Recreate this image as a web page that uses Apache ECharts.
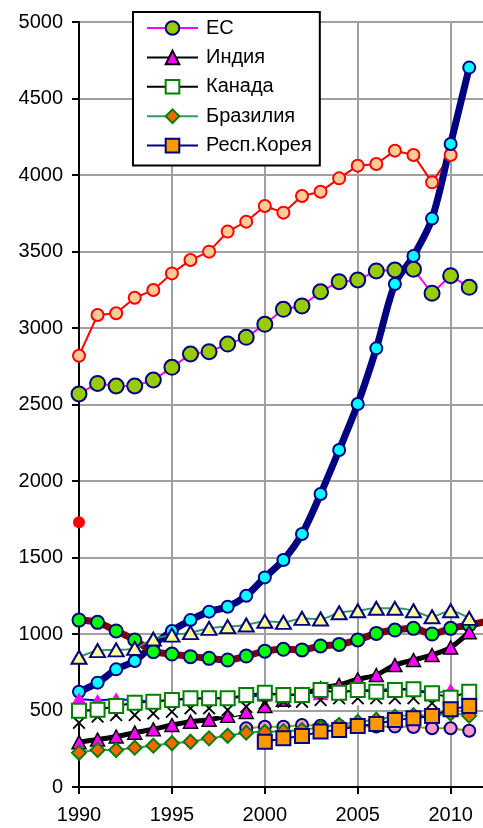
<!DOCTYPE html>
<html>
<head>
<meta charset="utf-8">
<script src="https://cdn.jsdelivr.net/npm/echarts@6/dist/echarts.min.js"></script>
<style>
  html, body { margin: 0; padding: 0; background: #fff; }
  #chart { width: 483px; height: 828px; }
</style>
</head>
<body>
<div id="chart"></div>
<script>
const years = [1990, 1991, 1992, 1993, 1994, 1995, 1996, 1997, 1998, 1999, 2000,
  2001, 2002, 2003, 2004, 2005, 2006, 2007, 2008, 2009, 2010, 2011, 2012]
const yTicks = ["0", "500", "1000", "1500", "2000", "2500", "3000", "3500", "4000", "4500", "5000"]

// series not in the legend
const peach = [2819, 3085, 3096, 3198, 3248, 3357, 3444, 3499, 3630, 3695, 3797,
  3754, 3863, 3891, 3978, 4061, 4072, 4159, 4131, 3952, 4131, null]
const redDot = [1730]
const cyan = [623, 682, 769, 824, 928, 1020, 1091, 1146, 1178, 1250, 1370,
  1484, 1654, 1915, 2203, 2503, 2867, 3288, 3471, 3715, 4203, 4702]
const maroon = [1091, 1076, 1020, 961, 885, 869, 852, 841, 830, 856, 888,
  900, 896, 922, 932, 961, 1004, 1026, 1037, 1000, 1037, 1059, 1085]
const yellowTri = [848, 891, 896, 906, 967, 993, 1009, 1037, 1048, 1059, 1083,
  1076, 1102, 1098, 1139, 1152, 1168, 1168, 1152, 1113, 1152, 1102]
const magentaTri = [575, 565, 575, 565, 560, 570, 575, 580, 580, 590, 600,
  600, 610, 610, 620, 630, 634, 641, 641, 601, 634, 621]
const crosses = [420, 460, 470, 470, 481, 492, 514, 514, 503, 525, 547,
  558, 558, 569, 580, 580, 580, 580, 580, 547, 590, 601]
const pink = [null, null, null, null, null, null, null, null, null, 384, 394,
  394, 405, 400, 400, 397, 395, 395, 392, 384, 384, 368]

// legend series
const eu = [2569, 2638, 2621, 2621, 2660, 2743, 2830, 2845, 2895, 2939, 3024,
  3122, 3144, 3237, 3303, 3314, 3373, 3379, 3384, 3227, 3342, 3266]
const india = [293, 310, 330, 355, 377, 405, 427, 440, 465, 490, 530,
  570, 605, 645, 667, 704, 732, 797, 830, 863, 912, 1012]
const canada = [499, 505, 530, 551, 558, 569, 580, 580, 580, 601, 616,
  601, 601, 634, 616, 634, 623, 634, 639, 612, 584, 623]
const brazil = [224, 242, 242, 257, 270, 286, 296, 318, 335, 355, 360,
  365, 372, 390, 405, 425, 440, 460, 470, 465, 480, 465]
const korea = [null, null, null, null, null, null, null, null, null, null, 296,
  318, 333, 362, 372, 399, 412, 438, 449, 464, 508, 529]

// points past 2011 only carry the line to the edge, no marker
const pts = (arr) => arr.map((v, i) =>
  years[i] > 2011 ? { value: [years[i], v], symbol: "none" } : [years[i], v])
const crossPath = "path://M0,1L1,0L5,4L9,0L10,1L6,5L10,9L9,10L5,6L1,10L0,9L4,5Z"

const chart = echarts.init(document.getElementById("chart"))
const font = "Liberation Sans, Arial, sans-serif"

chart.setOption({
  animation: false,
  backgroundColor: "#fff",
  textStyle: { fontFamily: font },
  grid: { left: 79, right: -4.8, top: 22, bottom: 41, containLabel: false, outerBoundsMode: "none" },
  legend: {
    data: ["ЕС", "Индия", "Канада", "Бразилия", "Респ.Корея"],
    orient: "vertical",
    left: 133,
    top: 12,
    padding: [6, 8, 10, 13],
    itemWidth: 51,
    itemHeight: 17,
    itemGap: 9.4,
    backgroundColor: "#fff",
    borderColor: "#000",
    borderWidth: 2,
    borderRadius: 0,
    textStyle: { fontSize: 20, color: "#000", fontFamily: font, padding: [0, 0, 0, 3] },
  },
  xAxis: {
    type: "value",
    min: 1990,
    max: 2012,
    interval: 5,
    axisLine: { lineStyle: { color: "#000", width: 2 } },
    axisTick: { show: true, length: 7, lineStyle: { color: "#000", width: 2 } },
    axisLabel: {
      fontSize: 20, color: "#000", margin: 18, fontFamily: font,
      formatter: (v) => (v % 5 === 0 ? String(v) : ""),
    },
    splitLine: { show: true, lineStyle: { color: "#a0a0a0", width: 2 } },
  },
  yAxis: {
    type: "value",
    min: 0,
    max: 5000,
    interval: 500,
    axisLine: { show: true, lineStyle: { color: "#000", width: 2 } },
    axisTick: { show: true, length: 7, lineStyle: { color: "#000", width: 2 } },
    axisLabel: {
      fontSize: 20, color: "#000", margin: 16, fontFamily: font,
      formatter: (v) => yTicks[Math.round(v / 500)],
    },
    splitLine: { show: true, lineStyle: { color: "#a0a0a0", width: 2 } },
  },
  series: [
    {
      name: "peach", type: "line", data: pts(peach),
      symbol: "circle", symbolSize: 12,
      lineStyle: { color: "#ff0000", width: 2 },
      itemStyle: { color: "#ffcc99", borderColor: "#ff0000", borderWidth: 2 },
    },
    {
      name: "dot", type: "line", data: pts(redDot),
      symbol: "circle", symbolSize: 12,
      itemStyle: { color: "#ff0000", borderWidth: 0 },
    },
    {
      name: "ЕС", type: "line", data: pts(eu),
      symbol: "circle", symbolSize: 15,
      lineStyle: { color: "#ff00ff", width: 2 },
      itemStyle: { color: "#99cc00", borderColor: "#000080", borderWidth: 2 },
    },
    {
      name: "cyan", type: "line", data: pts(cyan), smooth: 0.3,
      symbol: "circle", symbolSize: 12,
      lineStyle: { color: "#000080", width: 7 },
      itemStyle: { color: "#00ffff", borderColor: "#000080", borderWidth: 2 },
    },
    {
      name: "maroon", type: "line", data: pts(maroon), smooth: 0.3,
      symbol: "circle", symbolSize: 13,
      lineStyle: { color: "#800000", width: 7 },
      itemStyle: { color: "#00ff00", borderColor: "#000080", borderWidth: 2 },
    },
    {
      name: "yellowTri", type: "line", data: pts(yellowTri), smooth: 0.3,
      symbol: "triangle", symbolSize: [15, 13],
      lineStyle: { color: "#339966", width: 2 },
      itemStyle: { color: "#ffff99", borderColor: "#000080", borderWidth: 2 },
    },
    {
      name: "magentaTri", type: "line", data: pts(magentaTri),
      symbol: "triangle", symbolSize: [16, 13],
      lineStyle: { color: "#0000ff", width: 2 },
      itemStyle: { color: "#ff00ff", borderWidth: 0 },
    },
    {
      name: "Индия", type: "line", data: pts(india), smooth: 0.3,
      symbol: "triangle", symbolSize: [14, 13],
      lineStyle: { color: "#000", width: 5 },
      itemStyle: { color: "#ff00ff", borderColor: "#000", borderWidth: 1.5 },
    },
    {
      name: "crosses", type: "line", data: pts(crosses),
      symbol: crossPath, symbolSize: 13,
      lineStyle: { color: "#fff", width: 14 },
      itemStyle: { color: "#000", borderWidth: 0 },
    },
    {
      name: "Канада", type: "line", data: pts(canada),
      symbol: "rect", symbolSize: 14,
      lineStyle: { color: "#000", width: 2 },
      itemStyle: { color: "#fff", borderColor: "#008000", borderWidth: 2 },
    },
    {
      name: "pink", type: "line", data: pts(pink),
      symbol: "circle", symbolSize: 12,
      lineStyle: { color: "#999900", width: 2 },
      itemStyle: { color: "#ff99cc", borderColor: "#000080", borderWidth: 2 },
    },
    {
      name: "Бразилия", type: "line", data: pts(brazil), smooth: 0.3,
      symbol: "diamond", symbolSize: 14,
      lineStyle: { color: "#339966", width: 2 },
      itemStyle: { color: "#ff6600", borderColor: "#008000", borderWidth: 2 },
    },
    {
      name: "Респ.Корея", type: "line", data: pts(korea),
      symbol: "rect", symbolSize: 14,
      lineStyle: { color: "#000080", width: 2 },
      itemStyle: { color: "#ff9900", borderColor: "#000080", borderWidth: 2 },
    },
  ],
})
</script>
</body>
</html>
